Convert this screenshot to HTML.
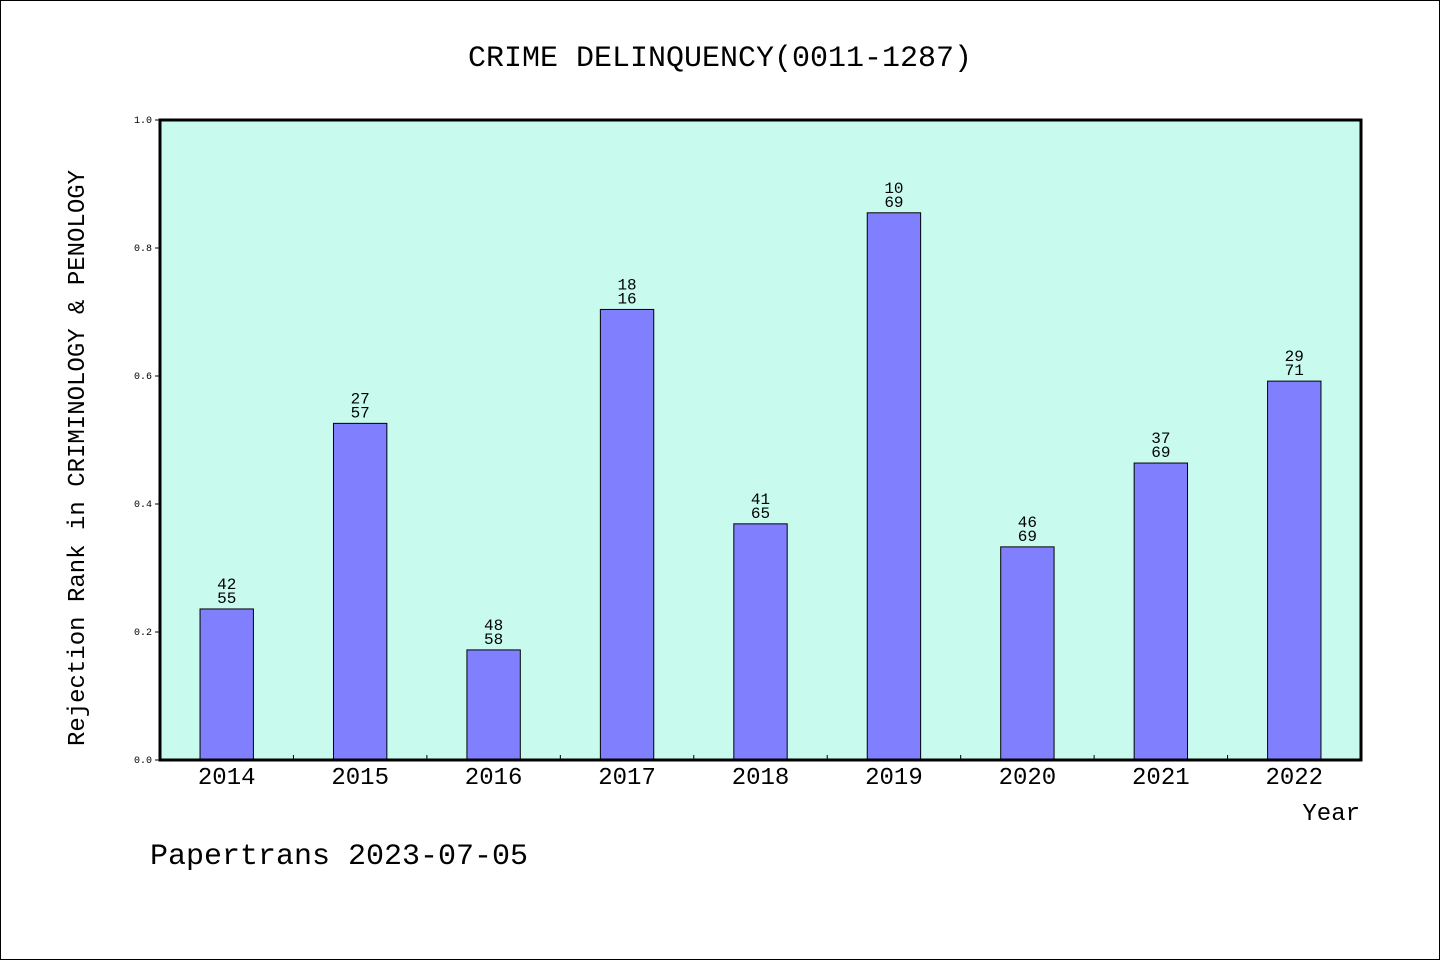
<!DOCTYPE html>
<html><head><meta charset="utf-8"><style>
html,body{margin:0;padding:0;background:#fff}
svg{display:block}
text{font-family:"WenQuanYi Zen Hei","Liberation Mono",monospace;fill:#000}
</style></head><body>
<svg id="chart" width="1440" height="960" xmlns="http://www.w3.org/2000/svg">
<rect x="0.5" y="0.5" width="1439" height="959" fill="#fff" stroke="#000"/>
<text x="720" y="66" font-size="30" text-anchor="middle">CRIME DELINQUENCY(0011-1287)</text>
<rect x="160" y="120" width="1201" height="640" fill="#c8fbee"/>
<g id="bars"></g>
<g id="yaxis"></g>
<g id="xaxis"></g>
<rect x="160" y="120" width="1201" height="640" fill="none" stroke="#000" stroke-width="3"/>
<text transform="translate(84,458) rotate(-90)" font-size="24" text-anchor="middle">Rejection Rank in CRIMINOLOGY &amp; PENOLOGY</text>
<text x="1360" y="820" font-size="24" text-anchor="end">Year</text>
<text x="150" y="864" font-size="30">Papertrans 2023-07-05</text>
</svg>
<script>
const categories = ["2014","2015","2016","2017","2018","2019","2020","2021","2022"];
const values = [0.236,0.526,0.172,0.704,0.369,0.855,0.333,0.464,0.592];
const ranks = ["42","27","48","18","41","10","46","37","29"];
const totals = ["55","57","58","16","65","69","69","69","71"];
const yTicks = ["0.0","0.2","0.4","0.6","0.8","1.0"];

const NS="http://www.w3.org/2000/svg";
const X0=160,X1=1361,Y0=760,Y1=120;
const slot=(X1-X0)/categories.length;
const xC=i=>X0+slot*(i+0.5);
const y=v=>Y0-(Y0-Y1)*v;
function mk(tag,attrs,parent,txt){const e=document.createElementNS(NS,tag);for(const k in attrs)e.setAttribute(k,attrs[k]);if(txt!=null)e.textContent=txt;parent.appendChild(e);return e;}
const gb=document.getElementById('bars'),gy=document.getElementById('yaxis'),gx=document.getElementById('xaxis');
const bw=slot*0.4;
values.forEach((v,i)=>{
  const r=mk('rect',{x:xC(i)-bw/2,y:y(v),width:bw,height:Y0-y(v),fill:'#8080ff',stroke:'#000','stroke-width':1},gb);
  
  
  const t1=mk('text',{x:xC(i),y:y(v)-20,'font-size':16,'text-anchor':'middle'},gb,ranks[i]);
  
  
  const t2=mk('text',{x:xC(i),y:y(v)-6,'font-size':16,'text-anchor':'middle'},gb,totals[i]);
  
  
  const xl=mk('text',{x:xC(i),y:784,'font-size':24,'text-anchor':'middle'},gx,categories[i]);
  
  
  if(i>0){const tk=mk('line',{x1:X0+slot*i,x2:X0+slot*i,y1:Y0,y2:Y0-5,stroke:'#000'},gx);
  
  }
});
yTicks.forEach(s=>{
  const v=parseFloat(s);
  const tk=mk('line',{x1:X0-5,x2:X0,y1:y(v),y2:y(v),stroke:'#000'},gy);
  
  
  const tl=mk('text',{x:152,y:y(v)+3,'font-size':10,'text-anchor':'end'},gy,s);
  
  
});
</script>
</body></html>
